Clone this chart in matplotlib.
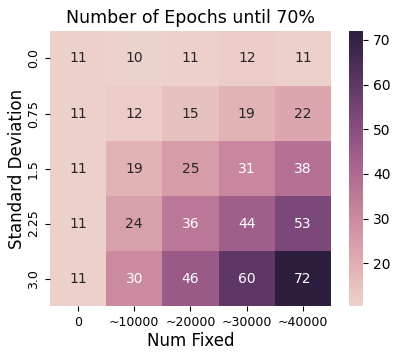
import numpy as np
import matplotlib
matplotlib.use("Agg")
import matplotlib.pyplot as plt
import seaborn as sns

num_fixed = ["0", "~10000", "~20000", "~30000", "~40000"]
std_dev = ["0.0", "0.75", "1.5", "2.25", "3.0"]
epochs = [
    [11, 10.4, 11, 12, 11],
    [11, 12, 15, 19, 22],
    [11, 19, 25, 31, 38],
    [11, 24, 36, 44, 53],
    [11, 30, 46, 60, 72],
]

fig = plt.figure(figsize=(4.15, 3.56), dpi=100)
ax = fig.add_axes([0.12, 0.14, 0.678, 0.773])
cax = fig.add_axes([0.841, 0.14, 0.034, 0.773])

cmap = sns.cubehelix_palette(as_cmap=True)
sns.heatmap(np.array(epochs), annot=True, fmt=".0f", cmap=cmap, ax=ax, cbar_ax=cax,
            xticklabels=num_fixed, yticklabels=std_dev, annot_kws={"fontsize": 10})

ax.set_title("Number of Epochs until 70%", fontsize=12.5)
ax.set_xlabel("Num Fixed", fontsize=12, labelpad=2)
ax.set_ylabel("Standard Deviation", fontsize=12, labelpad=1)
ax.tick_params(axis="both", labelsize=9)
ax.set_yticklabels(std_dev, rotation=90, va="center")
cax.tick_params(labelsize=10)

fig.savefig("out.png", dpi=100)
